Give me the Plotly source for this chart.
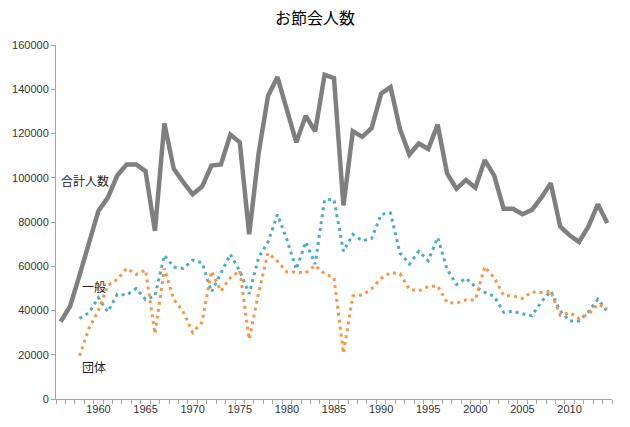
import plotly.graph_objects as go

years = list(range(1956, 2015))

total = [35000, 42000, 56000, 71000, 85000, 91000, 101000, 106000, 106000, 103000,
         76000, 124500, 104000, 98000, 92500, 96000, 105500, 106000, 119500, 116000,
         74500, 111000, 137000, 145500, 130500, 116000, 128000, 121000, 146500, 145000,
         87500, 121000, 118500, 122500, 138000, 141000, 122000, 110500, 115500, 113000,
         124000, 102000, 95000, 99000, 95500, 108000, 101000, 86000, 86000, 83500,
         85500, 91000, 97500, 78000, 74000, 71000, 78000, 88000, 79500]

ippan = [None, None, 36400, 39000, 45800, 39400, 47300, 47000, 49900, 45000,
         46500, 65000, 59600, 59000, 62800, 61600, 48400, 57000, 65400, 57800,
         47500, 64000, 71000, 83400, 72000, 58600, 71000, 61000, 90000, 90200,
         66800, 74400, 71500, 72600, 83500, 84000, 66000, 61000, 66800, 62500,
         73000, 58600, 51800, 54600, 50700, 48200, 46400, 39200, 39600, 38500,
         37600, 43900, 48800, 39800, 35300, 35300, 39400, 45100, 39500]

dantai = [None, None, 19500, 32000, 40000, 51400, 54000, 59000, 56300, 58300,
          29500, 59000, 45000, 39400, 30000, 34800, 57800, 48800, 54800, 58000,
          27000, 48000, 66000, 62300, 57400, 57400, 57000, 60400, 56600, 54800,
          20700, 46600, 47000, 49900, 54500, 57100, 56600, 49600, 48800, 50800,
          51100, 43600, 43300, 44800, 44800, 59800, 54800, 46900, 46600, 45400,
          48400, 48100, 48800, 37900, 39000, 36400, 38300, 42800, 41000]

x_labels = [1960, 1965, 1970, 1975, 1980, 1985, 1990, 1995, 2000, 2005, 2010]
y_ticks = [0, 20000, 40000, 60000, 80000, 100000, 120000, 140000, 160000]

title_text = "お節会人数"
series_labels = ["合計人数", "一般", "団体"]

cjk = "Noto Sans CJK JP"
num_font = "Liberation Sans"

fig = go.Figure()
fig.add_trace(go.Scatter(x=years, y=ippan, mode="lines", name=series_labels[1],
                         line=dict(color="#4bacc6", width=3, dash="3px,4px")))
fig.add_trace(go.Scatter(x=years, y=dantai, mode="lines", name=series_labels[2],
                         line=dict(color="#f79646", width=3, dash="3px,4px")))
fig.add_trace(go.Scatter(x=years, y=total, mode="lines", name=series_labels[0],
                         line=dict(color="#7f7f7f", width=4.5)))

annots = [
    dict(x=1958.55, y=98700, text=series_labels[0]),
    dict(x=1959.5, y=50900, text=series_labels[1]),
    dict(x=1959.5, y=14900, text=series_labels[2]),
]
for a in annots:
    fig.add_annotation(x=a["x"], y=a["y"], xref="x", yref="y", text=a["text"],
                       showarrow=False, font=dict(family=cjk, size=12, color="#222"),
                       xanchor="center", yanchor="middle")

fig.update_layout(
    width=630, height=427,
    margin=dict(l=51, r=18, t=45, b=27),
    paper_bgcolor="white", plot_bgcolor="white",
    showlegend=False,
    title=dict(text=title_text, x=0.5, xanchor="center", xref="container",
               y=1 - 18 / 427, yanchor="middle", yref="container",
               font=dict(family=cjk, size=16, color="#000")),
)
fig.update_xaxes(
    range=[1955.5, 2014.5], showgrid=False, zeroline=False,
    showline=True, linecolor="#a6a6a6", linewidth=1,
    tickmode="array", tickvals=x_labels, ticktext=[str(v) for v in x_labels],
    ticks="", tickfont=dict(family=num_font, size=11, color="#333"),
    minor=dict(tick0=1955.5, dtick=1, ticks="outside", ticklen=4,
               tickcolor="#a6a6a6", tickwidth=1, showgrid=False),
)
fig.update_yaxes(
    range=[0, 160000], showgrid=False, zeroline=False,
    showline=True, linecolor="#a6a6a6", linewidth=1,
    tickmode="array", tickvals=y_ticks, ticktext=[str(v) for v in y_ticks],
    ticks="outside", ticklen=4, tickcolor="#a6a6a6",
    tickfont=dict(family=num_font, size=11, color="#333"),
)

fig.write_html("out.html")
